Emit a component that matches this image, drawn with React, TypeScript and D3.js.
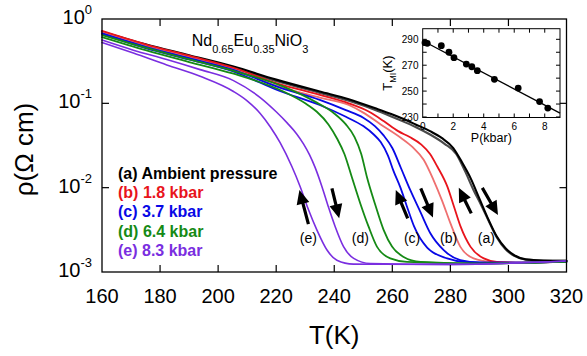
import React from "react";
import * as d3 from "d3";

const W = 587;
const H = 356;

// ---------- main axes ----------
const xTicks = [160, 180, 200, 220, 240, 260, 280, 300, 320];
const yTicks = [1e-3, 1e-2, 1e-1, 1];
const yTickExp = ["-3", "-2", "-1", "0"];

// ---------- curves: (a) ambient ----------
const aWarmT = [160, 175, 190, 205, 220, 235, 245, 255, 262, 268, 273, 277, 281, 284, 287, 290, 293, 296, 299, 302, 306, 312, 320];
const aWarmR = [0.708, 0.501, 0.372, 0.275, 0.191, 0.138, 0.112, 0.0851, 0.0692, 0.0562, 0.0468, 0.0389, 0.0295, 0.02, 0.0129, 0.00741, 0.00427, 0.00263, 0.00191, 0.00158, 0.00141, 0.00137, 0.00136];
const aCoolT = [160, 175, 190, 205, 220, 235, 245, 255, 262, 268, 273, 278, 282, 285, 288, 290.5, 293, 296, 299, 302, 306, 312, 320];
const aCoolR = [0.692, 0.49, 0.359, 0.266, 0.184, 0.133, 0.107, 0.0813, 0.0646, 0.0525, 0.0427, 0.0331, 0.0251, 0.0158, 0.00933, 0.00631, 0.00417, 0.00257, 0.00186, 0.00155, 0.0014, 0.00136, 0.00136];
// (b) 1.8 kbar
const bWarmT = [160, 175, 190, 205, 220, 235, 245, 252, 257, 262, 266, 270, 273, 275.5, 279, 281.2, 283.5, 286.9, 291.5, 296, 305, 320];
const bWarmR = [0.724, 0.501, 0.367, 0.266, 0.174, 0.126, 0.1, 0.0794, 0.0617, 0.0468, 0.0398, 0.0324, 0.0251, 0.0178, 0.0102, 0.00603, 0.00347, 0.002, 0.00145, 0.00132, 0.00129, 0.00133];
const bCoolT = [160, 175, 190, 205, 220, 235, 245, 250, 256, 263, 267, 270.8, 274.2, 277.1, 280, 283.4, 288, 294, 305, 320];
const bCoolR = [0.7, 0.49, 0.355, 0.257, 0.162, 0.117, 0.0955, 0.0776, 0.0562, 0.0389, 0.0302, 0.0214, 0.0123, 0.00708, 0.0038, 0.002, 0.00145, 0.00132, 0.00129, 0.00133];
// (c) 3.7 kbar
const cWarmT = [160, 175, 190, 205, 221, 235, 244, 250, 254, 257, 260, 263, 266.2, 269.7, 273.1, 277.7, 283.4, 290, 305, 320];
const cWarmR = [0.676, 0.468, 0.343, 0.251, 0.155, 0.11, 0.0832, 0.0676, 0.0537, 0.0417, 0.0295, 0.017, 0.00933, 0.00513, 0.00288, 0.00182, 0.00138, 0.00129, 0.00129, 0.00133];
const cCoolT = [160, 175, 190, 205, 221, 235, 244, 250, 253.6, 256, 258.5, 260.4, 262.8, 265, 267.5, 272, 278.9, 285, 300, 320];
const cCoolR = [0.661, 0.452, 0.331, 0.24, 0.141, 0.0955, 0.0692, 0.0537, 0.0427, 0.0347, 0.024, 0.0158, 0.01, 0.00603, 0.00347, 0.00195, 0.00145, 0.00132, 0.00129, 0.00133];
// (d) 6.4 kbar
const dWarmT = [160, 175, 190, 205, 222.5, 234, 240, 244, 247, 249.3, 251.3, 254.1, 257, 259.9, 263.9, 269.7, 290, 320];
const dWarmR = [0.646, 0.457, 0.331, 0.245, 0.158, 0.102, 0.0759, 0.0562, 0.0398, 0.0251, 0.0132, 0.00631, 0.00316, 0.002, 0.00151, 0.00132, 0.00126, 0.00133];
const dCoolT = [160, 175, 190, 205, 222.5, 230, 234, 238, 241, 243.5, 246.1, 249, 251.8, 254.7, 259.3, 265, 290, 320];
const dCoolR = [0.61, 0.427, 0.309, 0.226, 0.138, 0.1, 0.0794, 0.0562, 0.038, 0.0251, 0.0132, 0.00646, 0.00347, 0.002, 0.00145, 0.00132, 0.00126, 0.00133];
// (e) 8.3 kbar
const eWarmT = [160, 170.8, 182.3, 193.8, 205.3, 214.5, 220, 224, 227, 229.4, 231.5, 233.4, 235.8, 238, 240.3, 243.2, 246.7, 252.4, 280, 320];
const eWarmR = [0.562, 0.427, 0.331, 0.251, 0.186, 0.117, 0.0794, 0.0575, 0.0437, 0.0331, 0.0245, 0.0174, 0.0102, 0.00589, 0.00347, 0.002, 0.00145, 0.00126, 0.00123, 0.00135];
const eCoolT = [160, 170.8, 182.3, 193.8, 205.3, 210, 214.5, 218, 221.4, 225.4, 228.3, 231.1, 234, 237.5, 240.9, 246.6, 280, 320];
const eCoolR = [0.525, 0.394, 0.285, 0.209, 0.138, 0.107, 0.0759, 0.0525, 0.0339, 0.0178, 0.0102, 0.0055, 0.00316, 0.00182, 0.00138, 0.00124, 0.00123, 0.00135];

// ---------- legend / annotations ----------
const legendLabels = ["(a) Ambient pressure", "(b) 1.8 kbar", "(c) 3.7 kbar", "(d) 6.4 kbar", "(e) 8.3 kbar"];
const curveLabels = ["(a)", "(b)", "(c)", "(d)", "(e)"];
const curveLabelT = [292.4, 279.4, 266.8, 249, 231.1];
const curveLabelR = 0.0025;
// arrows: tail T, tail rho, tip T, tip rho
const arrowTailT = [231.1, 239.2, 265.3, 269.8, 287.2, 291.0];
const arrowTailR = [0.0037, 0.00982, 0.00433, 0.00982, 0.00495, 0.00995];
const arrowTipT = [228.0, 241.7, 261.2, 274.0, 282.9, 296.4];
const arrowTipR = [0.00938, 0.00433, 0.00938, 0.00442, 0.00995, 0.00473];

// ---------- inset ----------
const insetP = [0.15, 0.3, 1.22, 1.72, 2.05, 2.86, 3.22, 3.58, 4.7, 6.26, 7.66, 8.2];
const insetT = [287.4, 286.9, 285.1, 280.0, 275.8, 270.9, 268.8, 265.8, 259.1, 252.3, 241.9, 236.9];
const fitP = [0, 9];
const fitT = [288.9, 233.0];
const insetXTicks = [0, 1, 2, 3, 4, 5, 6, 7, 8, 9];
const insetXLabels = [0, 2, 4, 6, 8];
const insetYTicks = [230, 240, 250, 260, 270, 280, 290];
const insetYLabels = [230, 250, 270, 290];

const FONT = "'Liberation Sans', Arial, Helvetica, sans-serif";

const COLORS = {
  black: "#000000",
  gray: "#4a4a4a",
  red: "#e8141c",
  pink: "#ef6f6f",
  blue: "#0808e6",
  green: "#158a15",
  purple: "#7a2ee0",
};
const legendColors = [COLORS.black, COLORS.red, COLORS.blue, COLORS.green, COLORS.purple];

export default function App() {
  const L = 102, R = 566.5, T = 19, B = 272;
  const x = d3.scaleLinear().domain([160, 320]).range([L, R]);
  const y = d3.scaleLog().domain([1e-3, 1]).range([B, T]);
  const line = d3
    .line<[number, number]>()
    .x((d) => x(d[0]))
    .y((d) => y(d[1]))
    .curve(d3.curveMonotoneX);

  const series = [
    { t: aCoolT, r: aCoolR, c: COLORS.gray, w: 2.1 },
    { t: aWarmT, r: aWarmR, c: COLORS.black, w: 2.1 },
    { t: bCoolT, r: bCoolR, c: COLORS.pink, w: 1.8 },
    { t: bWarmT, r: bWarmR, c: COLORS.red, w: 1.8 },
    { t: cCoolT, r: cCoolR, c: COLORS.blue, w: 1.8 },
    { t: cWarmT, r: cWarmR, c: COLORS.blue, w: 1.8 },
    { t: dCoolT, r: dCoolR, c: COLORS.green, w: 1.8 },
    { t: dWarmT, r: dWarmR, c: COLORS.green, w: 1.8 },
    { t: eCoolT, r: eCoolR, c: COLORS.purple, w: 1.6 },
    { t: eWarmT, r: eWarmR, c: COLORS.purple, w: 1.6 },
  ];

  // inset scales
  const iL = 422.7, iR = 560, iT = 28.7, iB = 117.5;
  const ix = d3.scaleLinear().domain([0, 9]).range([iL, iR]);
  const iy = d3.scaleLinear().domain([229.6, 298.2]).range([iB, iT]);

  const arrowPoly = (i: number) => {
    const x1 = x(arrowTailT[i]), y1 = y(arrowTailR[i]);
    const x2 = x(arrowTipT[i]), y2 = y(arrowTipR[i]);
    const dx = x2 - x1, dy = y2 - y1;
    const len = Math.hypot(dx, dy);
    const ux = dx / len, uy = dy / len;
    const nx = -uy, ny = ux;
    const hl = 14, hw = 6.5, sw = 1.6;
    const bx = x2 - ux * hl, by = y2 - uy * hl;
    const pts = [
      [x1 + nx * sw, y1 + ny * sw],
      [bx + nx * sw, by + ny * sw],
      [bx + nx * hw, by + ny * hw],
      [x2, y2],
      [bx - nx * hw, by - ny * hw],
      [bx - nx * sw, by - ny * sw],
      [x1 - nx * sw, y1 - ny * sw],
    ];
    return pts.map((p) => p.join(",")).join(" ");
  };

  return (
    <svg
      width={W}
      height={H}
      viewBox={`0 0 ${W} ${H}`}
      style={{ position: "absolute", left: 0, top: 0, background: "#fff" }}
      fontFamily={FONT}
    >
      <rect x={0} y={0} width={W} height={H} fill="#fff" />
      {/* curves */}
      <g fill="none" strokeLinejoin="round" strokeLinecap="round">
        {series.map((s, i) => (
          <path
            key={i}
            d={line(s.t.map((t, j) => [t, s.r[j]] as [number, number])) || ""}
            stroke={s.c}
            strokeWidth={s.w}
          />
        ))}
      </g>

      {/* frame */}
      <rect x={L} y={T} width={R - L} height={B - T} fill="none" stroke="#000" strokeWidth={1.3} />
      {/* x ticks */}
      {xTicks.map((t) => (
        <g key={"xt" + t}>
          {t > 160 && t < 320 && (
            <>
              <line x1={x(t)} x2={x(t)} y1={B} y2={B - 7} stroke="#000" strokeWidth={1.2} />
              <line x1={x(t)} x2={x(t)} y1={T} y2={T + 7} stroke="#000" strokeWidth={1.2} />
            </>
          )}
          <text x={x(t)} y={303} fontSize={20} textAnchor="middle" fill="#000">
            {t}
          </text>
        </g>
      ))}
      {/* y ticks */}
      {yTicks.map((t, i) => (
        <g key={"yt" + i}>
          {i > 0 && i < yTicks.length - 1 && (
            <>
              <line x1={L} x2={L + 7} y1={y(t)} y2={y(t)} stroke="#000" strokeWidth={1.2} />
              <line x1={R} x2={R - 7} y1={y(t)} y2={y(t)} stroke="#000" strokeWidth={1.2} />
            </>
          )}
          <text x={92} y={y(t) + 5} fontSize={20} textAnchor="end" fill="#000">
            10
            <tspan dy={-10} fontSize={13}>
              {yTickExp[i]}
            </tspan>
          </text>
        </g>
      ))}
      {/* axis titles */}
      <text x={x(240)} y={344} fontSize={26} textAnchor="middle" fill="#000">
        T(K)
      </text>
      <text
        transform={`translate(33, ${(T + B) / 2 + 4}) rotate(-90)`}
        fontSize={26}
        textAnchor="middle"
        fill="#000"
      >
        ρ(Ω cm)
      </text>

      {/* compound title */}
      <text x={191.7} y={46} fontSize={16} fill="#000">
        Nd
        <tspan dy={7} fontSize={11}>0.65</tspan>
        <tspan dy={-7}>Eu</tspan>
        <tspan dy={7} fontSize={11}>0.35</tspan>
        <tspan dy={-7}>NiO</tspan>
        <tspan dy={7} fontSize={11}>3</tspan>
      </text>

      {/* legend */}
      {legendLabels.map((lab, i) => (
        <text key={lab} x={118} y={179 + i * 19.2} fontSize={16} fontWeight="bold" fill={legendColors[i]}>
          {lab}
        </text>
      ))}

      {/* curve labels */}
      {curveLabels.map((lab, i) => (
        <text key={lab} x={x(curveLabelT[i])} y={y(curveLabelR) + 5} fontSize={14} textAnchor="middle" fill="#000">
          {lab}
        </text>
      ))}
      {/* arrows */}
      {arrowTailT.map((_, i) => (
        <polygon key={"ar" + i} points={arrowPoly(i)} fill="#000" />
      ))}

      {/* inset */}
      <g>
        <rect x={iL} y={iT} width={iR - iL} height={iB - iT} fill="#fff" stroke="#000" strokeWidth={1} />
        {insetXTicks.map((t) => (
          <g key={"ixt" + t}>
            {t > 0 && t < 9 && (
              <>
                <line x1={ix(t)} x2={ix(t)} y1={iB} y2={iB - 4} stroke="#000" strokeWidth={1} />
                <line x1={ix(t)} x2={ix(t)} y1={iT} y2={iT + 4} stroke="#000" strokeWidth={1} />
              </>
            )}
          </g>
        ))}
        {insetXLabels.map((t) => (
          <text key={"ixl" + t} x={ix(t)} y={129.5} fontSize={10} textAnchor="middle" fill="#000">
            {t}
          </text>
        ))}
        {insetYTicks.map((t) => (
          <g key={"iyt" + t}>
            <line x1={iL} x2={iL + 4} y1={iy(t)} y2={iy(t)} stroke="#000" strokeWidth={1} />
            <line x1={iR} x2={iR - 4} y1={iy(t)} y2={iy(t)} stroke="#000" strokeWidth={1} />
          </g>
        ))}
        {insetYLabels.map((t) => (
          <text key={"iyl" + t} x={418.5} y={iy(t) + 3.6} fontSize={10} textAnchor="end" fill="#000">
            {t}
          </text>
        ))}
        <line
          x1={ix(fitP[0])}
          y1={iy(fitT[0])}
          x2={ix(fitP[1])}
          y2={iy(fitT[1])}
          stroke="#000"
          strokeWidth={1.3}
        />
        {insetP.map((p, i) => (
          <circle key={"ip" + i} cx={ix(p)} cy={iy(insetT[i])} r={3.4} fill="#000" />
        ))}
        <text x={(iL + iR) / 2} y={142} fontSize={12.5} textAnchor="middle" fill="#000">
          P(kbar)
        </text>
        <text transform={`translate(392, ${(iT + iB) / 2}) rotate(-90)`} fontSize={13} textAnchor="middle" fill="#000">
          T
          <tspan dy={3.5} fontSize={9}>MI</tspan>
          <tspan dy={-3.5}>(K)</tspan>
        </text>
      </g>
    </svg>
  );
}
